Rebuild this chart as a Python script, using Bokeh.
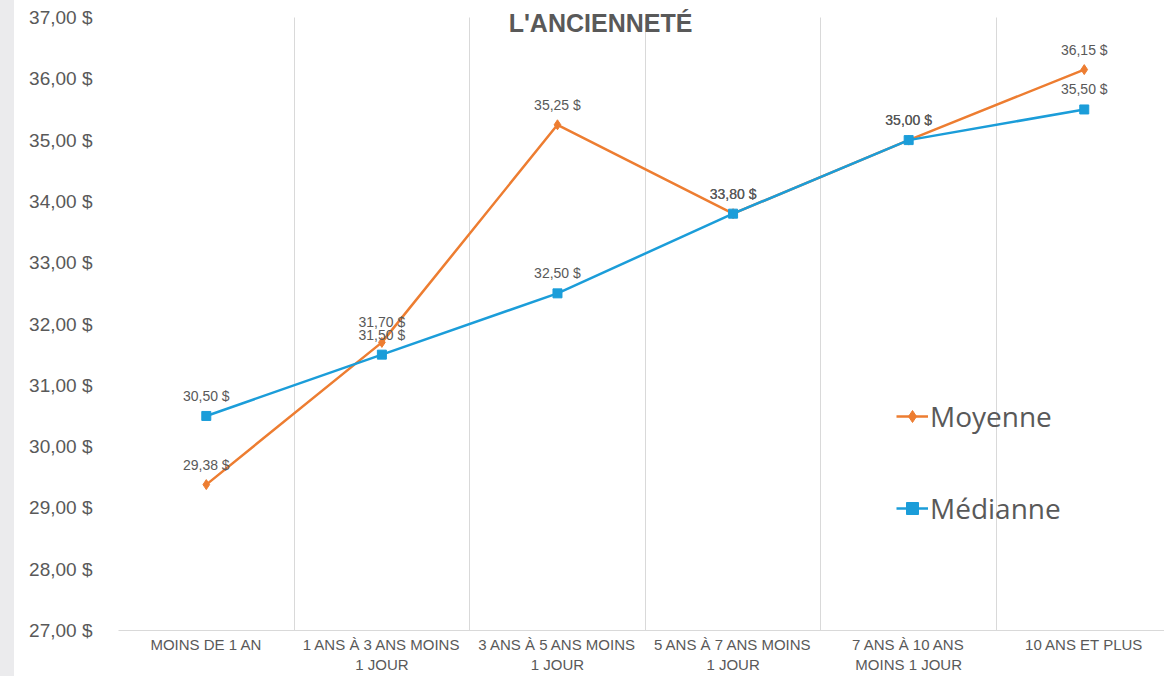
from bokeh.plotting import figure
from bokeh.models import (ColumnDataSource, FixedTicker, Range1d, Label, Legend, LegendItem, Div)
from bokeh.layouts import row
from bokeh.core.properties import value
from bokeh.embed import file_html
from bokeh.resources import INLINE

categories = ["MOINS DE 1 AN", "1 ANS À 3 ANS MOINS\n1 JOUR", "3 ANS À 5 ANS MOINS\n1 JOUR",
              "5 ANS À 7 ANS MOINS\n1 JOUR", "7 ANS À 10 ANS\nMOINS 1 JOUR", "10 ANS ET PLUS"]
moyenne = [29.38, 31.70, 35.25, 33.80, 35.00, 36.15]
mediane = [30.50, 31.50, 32.50, 33.80, 35.00, 35.50]
y_ticks = [27, 28, 29, 30, 31, 32, 33, 34, 35, 36, 37]
title_text = "L'ANCIENNETÉ"

def fmt(v):
    return f"{v:.2f}".replace(".", ",") + " $"

xs = list(range(len(categories)))
src_moy = ColumnDataSource(dict(x=xs, y=moyenne, lab=[fmt(v) for v in moyenne]))
src_med = ColumnDataSource(dict(x=xs, y=mediane, lab=[fmt(v) for v in mediane]))

ORANGE = "#ED7D31"
BLUE = "#1B9DD9"
GRAY_TXT = "#595959"

y_min, y_max = y_ticks[0], y_ticks[-1]
p = figure(width=1150, height=676, output_backend="svg", toolbar_location=None,
           x_range=Range1d(-0.5, 5.457), y_range=Range1d(y_min, y_max + 0.147),
           min_border_left=104, min_border_right=0, min_border_top=8, min_border_bottom=46)
p.outline_line_color = None
p.background_fill_color = "white"
p.border_fill_color = "white"

# axes
p.xaxis.ticker = FixedTicker(ticks=xs)
p.xaxis.major_label_overrides = {i: c for i, c in enumerate(categories)}
p.xaxis.major_label_text_font = "Liberation Sans"
p.xaxis.major_label_text_font_size = "15px"
p.xaxis.major_label_text_color = GRAY_TXT
p.xaxis.major_label_standoff = 5
p.xaxis.major_tick_line_color = None
p.xaxis.major_tick_out = 0
p.xaxis.major_tick_in = 0
p.xaxis.minor_tick_line_color = None
p.xaxis.minor_tick_out = 0
p.xaxis.axis_line_color = "#d9d9d9"

p.yaxis.ticker = FixedTicker(ticks=y_ticks)
p.yaxis.major_label_overrides = {t: fmt(t) for t in y_ticks}
p.yaxis.major_label_text_font = "Liberation Sans"
p.yaxis.major_label_text_font_size = "19px"
p.yaxis.major_label_text_color = GRAY_TXT
p.yaxis.major_label_standoff = 26
p.yaxis.major_tick_line_color = None
p.yaxis.major_tick_out = 0
p.yaxis.major_tick_in = 0
p.yaxis.minor_tick_line_color = None
p.yaxis.minor_tick_out = 0
p.yaxis.axis_line_color = None

p.ygrid.grid_line_color = None
p.xgrid.ticker = FixedTicker(ticks=[i - 0.5 for i in xs])
p.xgrid.grid_line_color = "#d9d9d9"
p.xgrid.grid_line_width = 1
p.xgrid.cross_bounds = (y_min, y_max)

# series
l1 = p.line("x", "y", source=src_moy, line_color=ORANGE, line_width=2.5)
m1 = p.scatter("x", "y", source=src_moy, marker="diamond", size=10, color=ORANGE)
l2 = p.line("x", "y", source=src_med, line_color=BLUE, line_width=2.5)
m2 = p.scatter("x", "y", source=src_med, marker="square", size=9, color=BLUE)

for s in (src_moy, src_med):
    p.text("x", "y", text="lab", source=s, y_offset=-20, text_align="center", text_baseline="middle",
           text_font=value("Liberation Sans"), text_font_size="14px", text_color=GRAY_TXT)

p.add_layout(Label(x=482, y=608, x_units="screen", y_units="screen", text=title_text,
                   text_font="Liberation Sans", text_font_style="bold", text_font_size="25px",
                   text_color=GRAY_TXT, text_align="center", text_baseline="middle"))

legend = Legend(items=[LegendItem(label="Moyenne", renderers=[l1, m1]),
                       LegendItem(label="Médianne", renderers=[l2, m2])],
                location=(778, 103), orientation="vertical")
legend.label_text_font = "Open Sans"
legend.label_text_font_size = "28px"
legend.label_text_color = GRAY_TXT
legend.glyph_width = 32
legend.glyph_height = 30
legend.label_height = 30
legend.label_standoff = 2
legend.spacing = 54
legend.padding = 0
legend.margin = 0
legend.border_line_color = None
legend.background_fill_alpha = 0
p.add_layout(legend)

strip = Div(width=14, height=676, margin=0, styles={"background-color": "#ebebed"})
layout = row(strip, p, spacing=0)

open("out.html", "w").write(file_html(layout, INLINE))
